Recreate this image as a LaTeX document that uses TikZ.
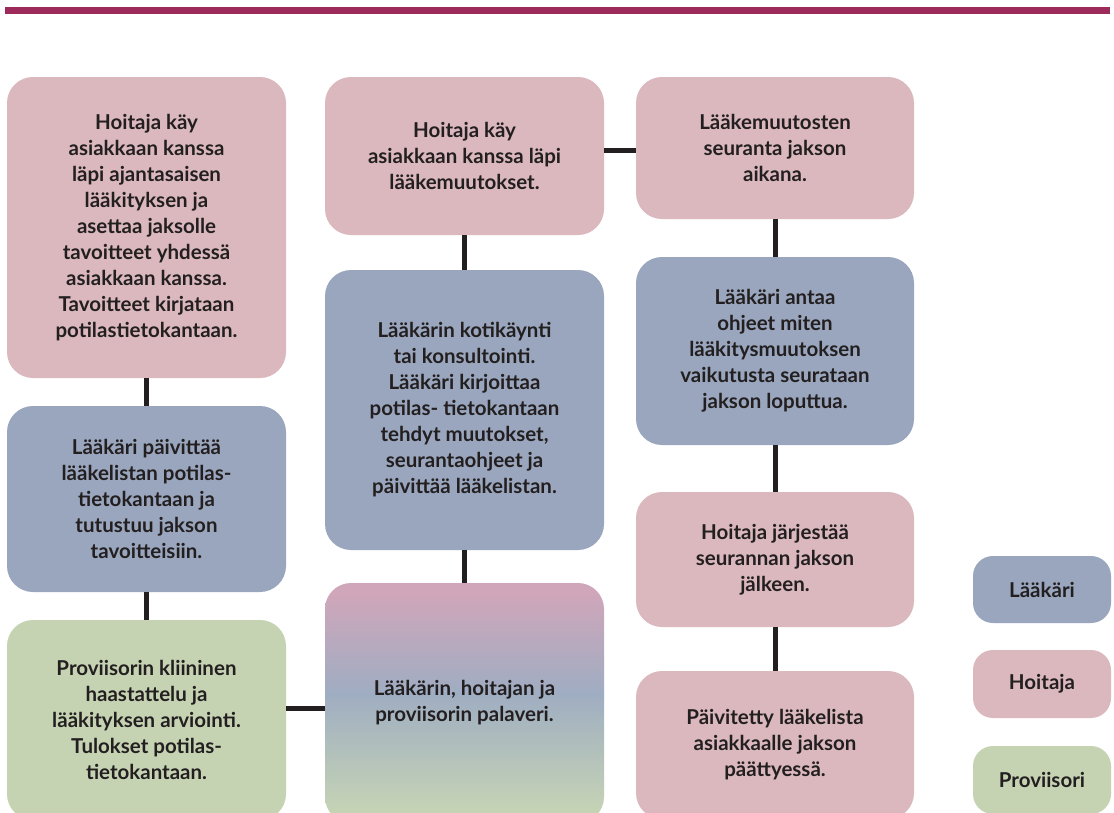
\documentclass[tikz,border=0pt]{standalone}
\usepackage{fontspec}
\setmainfont{Lato}
\definecolor{topline}{HTML}{9C2A5A}
\definecolor{pinkbox}{HTML}{DAB8BE}
\definecolor{bluebox}{HTML}{99A6BD}
\definecolor{greenbox}{HTML}{C5D3B2}
\definecolor{txt}{HTML}{231F20}
\definecolor{gpink}{HTML}{D0A6BA}
\definecolor{gblue}{HTML}{9FADC2}
\definecolor{ggreen}{HTML}{C6D4B5}
\pgfdeclareverticalshading{palaveri}{100bp}{color(0bp)=(ggreen); color(27bp)=(ggreen); color(52bp)=(gblue); color(73bp)=(gpink); color(100bp)=(gpink)}
\begin{document}
\begin{tikzpicture}[x=1pt,y=1pt,
  box/.style={rounded corners=26pt, minimum width=279pt, inner sep=0pt, align=center,
    text=txt, font=\fontsize{20.5}{26}\selectfont\bfseries},
  leg/.style={rounded corners=20pt, minimum width=138pt, inner sep=0pt, align=center,
    text=txt, font=\fontsize{20.5}{26}\selectfont\bfseries},
  conn/.style={line width=5pt, draw=txt}]
\useasboundingbox (0,0) rectangle (1114,-812);
\fill[white] (0,0) rectangle (1114,-812);
\fill[topline] (5,-7) rectangle (1110,-13.5);
\begin{scope}
\clip (0,0) rectangle (1114,-812);
\coordinate (cf) at (0,-708);
\coordinate (dg) at (0,-150);
% column 1
\node[box, fill=pinkbox, minimum height=301pt] (A) at (146.5,-227.5)
  {Hoitaja käy\\asiakkaan kanssa\\läpi ajantasaisen\\lääkityksen ja\\asettaa jaksolle\\tavoitteet yhdessä\\asiakkaan kanssa.\\Tavoitteet kirjataan\\potilastietokantaan.};
\node[box, fill=bluebox, minimum height=186pt] (B) at (146.5,-499)
  {Lääkäri päivittää\\lääkelistan potilas-\\tietokantaan ja\\tutustuu jakson\\tavoitteisiin.};
\node[box, fill=greenbox, minimum height=200pt] (C) at (146.5,-720)
  {Proviisorin kliininen\\haastattelu ja\\lääkityksen arviointi.\\Tulokset potilas-\\tietokantaan.};
% column 2
\node[box, fill=pinkbox, minimum height=158pt] (D) at (464.5,-156)
  {Hoitaja käy\\asiakkaan kanssa läpi\\lääkemuutokset.};
\node[box, fill=bluebox, minimum height=280pt] (E) at (464.5,-410)
  {Lääkärin kotikäynti\\tai konsultointi.\\Lääkäri kirjoittaa\\potilas- tietokantaan\\tehdyt muutokset,\\seurantaohjeet ja\\päivittää lääkelistan.};
\node[box, shading=palaveri, minimum height=240pt] (F) at (464.5,-703)
  {Lääkärin, hoitajan ja\\proviisorin palaveri.};
% column 3
\node[box, fill=pinkbox, minimum height=142pt, minimum width=278pt] (G) at (775,-148)
  {Lääkemuutosten\\seuranta jakson\\aikana.};
\node[box, fill=bluebox, minimum height=188pt, minimum width=278pt] (H) at (775,-351)
  {Lääkäri antaa\\ohjeet miten\\lääkitysmuutoksen\\vaikutusta seurataan\\jakson loputtua.};
\node[box, fill=pinkbox, minimum height=135pt, minimum width=278pt] (I) at (775,-559.5)
  {Hoitaja järjestää\\seurannan jakson\\jälkeen.};
\node[box, fill=pinkbox, minimum height=148pt, minimum width=278pt] (J) at (775,-745)
  {Päivitetty lääkelista\\asiakkaalle jakson\\päättyessä.};
% legend
\node[leg, fill=bluebox, minimum height=67pt] (L1) at (1042,-589.5) {Lääkäri};
\node[leg, fill=pinkbox, minimum height=68pt] (L2) at (1042,-684) {Hoitaja};
\node[leg, fill=greenbox, minimum height=68pt] (L3) at (1042,-780) {Proviisori};
% connectors
\draw[conn] (A.south) -- (B.north);
\draw[conn] (B.south) -- (C.north);
\draw[conn] (cf -| C.east) -- (cf -| F.west);
\draw[conn] (D.south) -- (E.north);
\draw[conn] (E.south) -- (F.north);
\draw[conn] (dg -| D.east) -- (dg -| G.west);
\draw[conn] (G.south) -- (H.north);
\draw[conn] (H.south) -- (I.north);
\draw[conn] (I.south) -- (J.north);
\end{scope}
\end{tikzpicture}
\end{document}
